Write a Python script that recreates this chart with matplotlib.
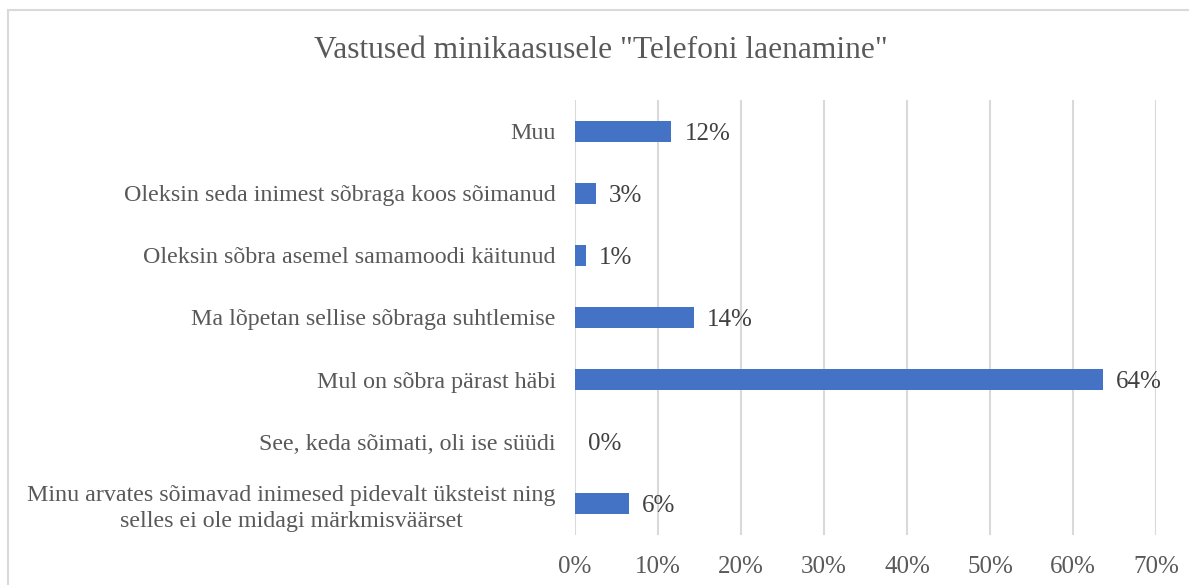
import matplotlib.pyplot as plt
from matplotlib.patches import Rectangle

categories = [
    "Minu arvates sõimavad inimesed pidevalt üksteist ning\nselles ei ole midagi märkmisväärset",
    "See, keda sõimati, oli ise süüdi",
    "Mul on sõbra pärast häbi",
    "Ma lõpetan sellise sõbraga suhtlemise",
    "Oleksin sõbra asemel samamoodi käitunud",
    "Oleksin seda inimest sõbraga koos sõimanud",
    "Muu",
]
values = [6.5, 0.0, 63.6, 14.3, 1.3, 2.5, 11.6]
labels = ["6%", "0%", "64%", "14%", "1%", "3%", "12%"]
ticks = [0, 10, 20, 30, 40, 50, 60, 70]

plt.rcParams['font.family'] = ['Liberation Serif', 'DejaVu Serif']
text_col = '#595959'
grid_col = '#d9d9d9'

fig = plt.figure(figsize=(11.89, 5.85), dpi=100)
ax = fig.add_axes([575 / 1189, 1 - 535 / 585, (1156 - 575) / 1189, 435 / 585])

fig.patches.append(Rectangle((8 / 1189, -0.02), 1.2, 1 - 10 / 585 + 0.02,
                             transform=fig.transFigure, fill=False,
                             edgecolor=grid_col, linewidth=1.5))

y = range(len(categories))
ax.barh(y, values, height=0.34, color='#4472c4', zorder=3)
for i, v in enumerate(values):
    ax.text(v + 1.6, i, labels[i], va='center_baseline', ha='left',
            fontsize=18, color='#404040')

ax.set_xlim(0, 70)
ax.set_ylim(-0.5, 6.5)
ax.set_xticks(ticks)
ax.set_xticklabels([f"{t}%" for t in ticks], fontsize=18)
ax.set_yticks(list(y))
ax.set_yticklabels(categories, multialignment='center', fontsize=17.3,
                   linespacing=1.3)
ax.tick_params(axis='both', length=0, colors=text_col)
ax.tick_params(axis='x', pad=15)
ax.tick_params(axis='y', pad=14)
ax.grid(axis='x', color=grid_col, linewidth=1.5, zorder=0)
for s in ax.spines.values():
    s.set_visible(False)

fig.text(0.5 * (313 + 889) / 1189, 1 - 50 / 585,
         'Vastused minikaasusele "Telefoni laenamine"',
         ha='center', va='center', fontsize=22.7, color=text_col)

fig.savefig('out.png', dpi=100, facecolor='white')
